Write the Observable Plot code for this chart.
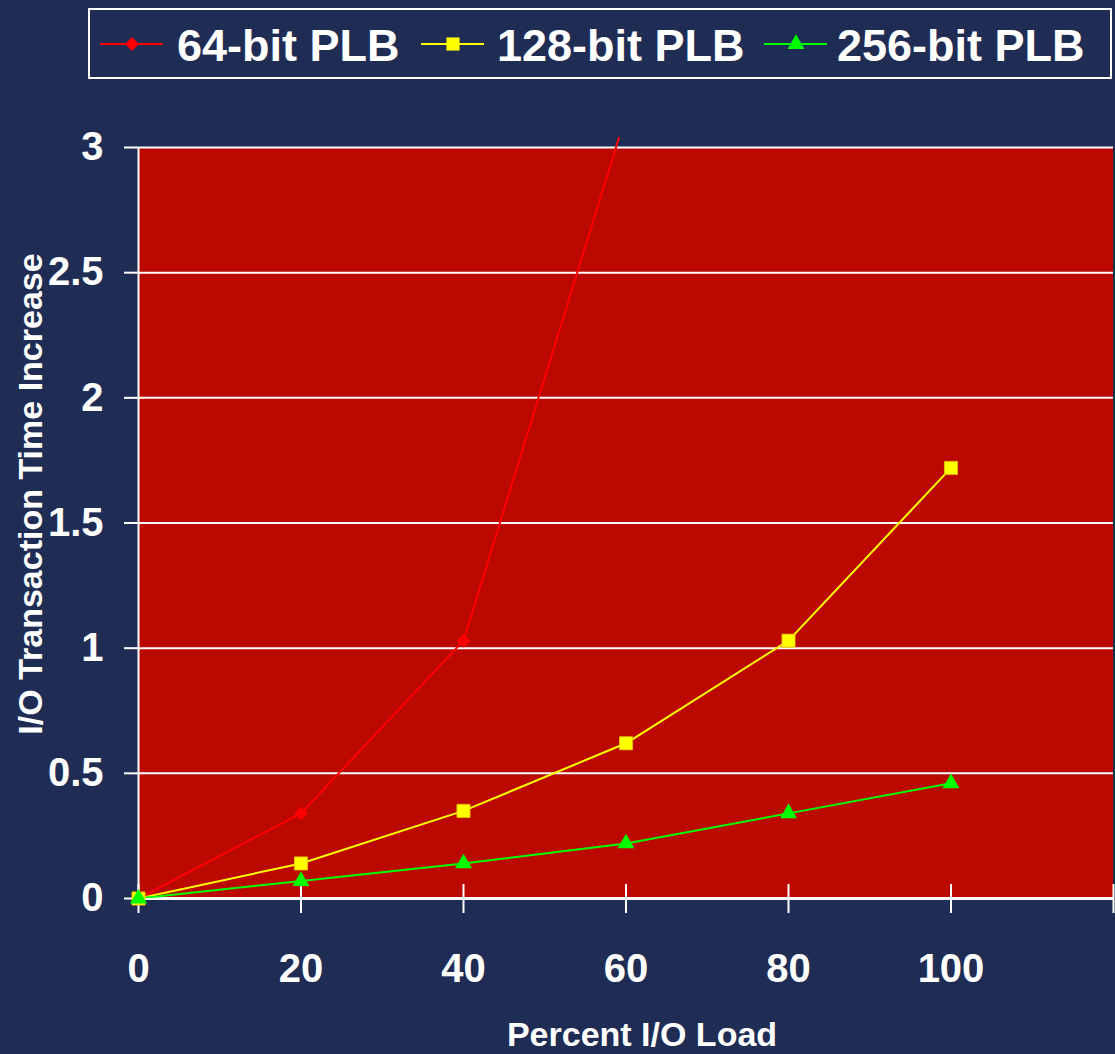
<!DOCTYPE html>
<html>
<head>
<meta charset="utf-8">
<script src="https://cdn.jsdelivr.net/npm/d3@7"></script>
<script src="https://cdn.jsdelivr.net/npm/@observablehq/plot@0.6"></script>
<style>
  html, body { margin: 0; padding: 0; background: #1f2d55; width: 1115px; height: 1054px; overflow: hidden; }
  #legend { display: block; }
  #chart svg { display: block; }
</style>
</head>
<body>
<svg id="legend" width="1115" height="90"></svg>
<div id="chart"></div>
<script>
// ---- data ----
const seriesNames = ["64-bit PLB", "128-bit PLB", "256-bit PLB"];
const seriesColors = ["#ff0000", "#ffff00", "#00ff00"];
const seriesSymbols = ["diamond2", "square", "triangle"];
const loadX = [0, 20, 40, 60, 80, 100];
const plb64 = [0, 0.34, 1.03, 3.13];
const plb128 = [0, 0.14, 0.35, 0.62, 1.03, 1.72];
const plb256 = [0, 0.07, 0.14, 0.22, 0.34, 0.46];
const xTicks = [0, 20, 40, 60, 80, 100, 120];
const xTickLabels = ["0", "20", "40", "60", "80", "100", ""];
const yTicks = [0, 0.5, 1, 1.5, 2, 2.5, 3];
const yTickLabels = ["0", "0.5", "1", "1.5", "2", "2.5", "3"];
const xDomain = [0, 120];
const yDomain = [0, 3.04];
const xTitle = "Percent I/O Load";
const yTitle = "I/O Transaction Time Increase";

const NAVY = "#1f2d55";
const PLOT_RED = "#bb0800";
const FONT = "'Liberation Sans', Arial, Helvetica, sans-serif";
const markerR = [6.2, 7.4, 6.3];

const seriesValues = [plb64, plb128, plb256];
const rows = [];
seriesValues.forEach((vals, si) => {
  vals.forEach((v, i) => rows.push({series: seriesNames[si], x: loadX[i], y: v}));
});

// ---- legend ----
const leg = d3.select("#legend");
leg.append("rect").attr("x", 89).attr("y", 9).attr("width", 1022).attr("height", 69)
  .attr("fill", "none").attr("stroke", "#fff").attr("stroke-width", 2);
const legendItems = [
  {lx: 100, tx: 177},
  {lx: 421, tx: 497},
  {lx: 764, tx: 837}
];
const symMap = {diamond2: d3.symbolDiamond2, square: d3.symbolSquare, triangle: d3.symbolTriangle};
seriesNames.forEach((name, i) => {
  const it = legendItems[i];
  leg.append("line").attr("x1", it.lx).attr("x2", it.lx + 63).attr("y1", 44).attr("y2", 44)
    .attr("stroke", seriesColors[i]).attr("stroke-width", 2);
  leg.append("path").attr("d", d3.symbol(symMap[seriesSymbols[i]], Math.PI * markerR[i] * markerR[i])())
    .attr("transform", `translate(${it.lx + 32},44)`).attr("fill", seriesColors[i]);
  leg.append("text").attr("x", it.tx).attr("y", 61).text(name)
    .attr("fill", "#fff").attr("font-family", FONT).attr("font-weight", "bold").attr("font-size", 45);
});

// ---- chart ----
const W = 1115, H = 964;
const mTop = 47, mBottom = 156, mLeft = 138, mRight = 2;
const frameH = H - mTop - mBottom;

const seriesMarks = [];
seriesNames.forEach((name, i) => {
  const data = rows.filter(d => d.series === name);
  seriesMarks.push(Plot.line(data, {x: "x", y: "y", stroke: seriesColors[i], strokeWidth: 2, clip: true}));
});
seriesNames.forEach((name, i) => {
  const data = rows.filter(d => d.series === name);
  seriesMarks.push(Plot.dot(data, {x: "x", y: "y", symbol: seriesSymbols[i], fill: seriesColors[i],
    stroke: i === 1 ? "#e8c400" : "none", strokeWidth: 0.8, r: markerR[i], clip: i === 0}));
});

const chart = Plot.plot({
  width: W,
  height: H,
  marginTop: mTop,
  marginBottom: mBottom,
  marginLeft: mLeft,
  marginRight: mRight,
  style: {background: NAVY, color: "#fff", fontFamily: FONT, fontWeight: "bold", overflow: "visible"},
  x: {domain: xDomain},
  y: {domain: yDomain},
  marks: [
    Plot.rect([null], {x1: () => xDomain[0], x2: () => xDomain[1], y1: () => yTicks[0], y2: () => yTicks[yTicks.length - 1], fill: PLOT_RED}),
    Plot.ruleY(yTicks, {stroke: "#fff", strokeWidth: 2}),
    Plot.ruleY([yTicks[0]], {stroke: "#fff", strokeWidth: 3}),
    Plot.ruleX([xDomain[0]], {y1: () => yTicks[0], y2: () => yTicks[yTicks.length - 1], stroke: "#fff", strokeWidth: 2}),
    Plot.ruleX(xTicks, {stroke: "#fff", strokeWidth: 2, insetTop: frameH - 14}),
    Plot.axisY(yTicks, {
      tickSize: 14, tickPadding: 21, strokeWidth: 2, fontSize: 40, fontWeight: "bold",
      tickFormat: d => yTickLabels[yTicks.indexOf(d)], label: null
    }),
    Plot.axisX(xTicks, {
      tickSize: 15, tickPadding: 40, strokeWidth: 2, fontSize: 40, fontWeight: "bold",
      tickFormat: d => xTickLabels[xTicks.indexOf(d)], label: null
    }),
    ...seriesMarks,
    Plot.text([yTitle], {frameAnchor: "left", textAnchor: "middle", lineAnchor: "middle", rotate: -90, dx: -107, dy: -24, fontSize: 34, fontWeight: "bold", fill: "#fff"}),
    Plot.text([xTitle], {frameAnchor: "bottom", textAnchor: "middle", lineAnchor: "middle", dx: 16, dy: 137, fontSize: 34, fontWeight: "bold", fill: "#fff"})
  ]
});
document.getElementById("chart").appendChild(chart);
</script>
</body>
</html>
